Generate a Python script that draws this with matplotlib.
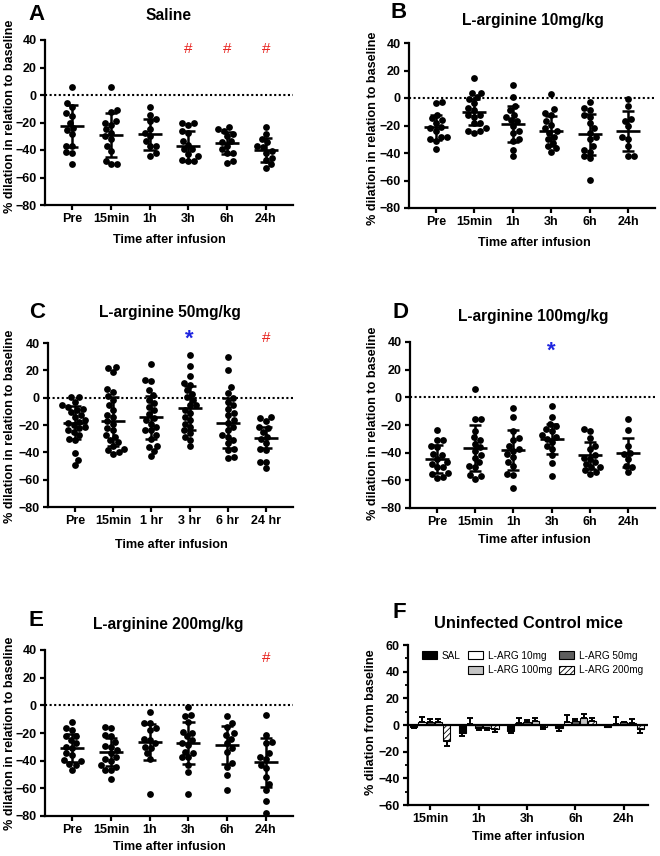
import numpy as np
import matplotlib
matplotlib.use("Agg")
import matplotlib.pyplot as plt
from matplotlib.patches import Patch

plt.rcParams["font.family"] = ["Liberation Sans", "DejaVu Sans"]
plt.rcParams["font.weight"] = "bold"
plt.rcParams["hatch.linewidth"] = 0.6

# ---------------- data ----------------
times = ["Pre", "15min", "1h", "3h", "6h", "24h"]
times_c = ["Pre", "15min", "1 hr", "3 hr", "6 hr", "24 hr"]

# A - Saline
a_pre = [6, -6, -8.5, -13, -15, -20, -24, -25.5, -28.5, -37, -37, -41.5, -42, -50.5]
a_15 = [6, -11, -12.5, -19, -20, -22, -25, -27.5, -30, -32, -37, -40.5, -48, -50.5, -50.5]
a_1h = [-9, -17.5, -14.5, -19, -25, -27.5, -30, -33.5, -37, -37, -42, -44]
a_3h = [-20.5, -20.5, -21.5, -26, -27.5, -33.5, -36, -39.5, -39.5, -43, -44.5, -47, -48, -48]
a_6h = [-23.5, -25, -26, -28.5, -30, -33.5, -34, -37, -39.5, -42, -42, -48, -49.5]
a_24h = [-23.5, -28.5, -32, -34.5, -37, -38, -40.5, -42, -45.5, -47, -50.5, -53]
a_mean = [-22.5, -29.3, -28.6, -37, -35, -40]
a_sd = [15, 16, 11.5, 11, 8, 9]

# B - L-arginine 10mg/kg
b_pre = [-3.5, -3, -12, -14.5, -16, -18, -22, -21, -24, -28, -28.5, -30, -31.5, -37]
b_15 = [14.5, 4, 3.5, 0.5, -1, -3.5, -7.5, -8.5, -12, -13.5, -12, -18, -18, -22, -24, -24, -25.5]
b_1h = [9.5, 1, -6, -8.5, -12, -13.5, -16, -17, -20.5, -24, -25.5, -30, -31.5, -37.5, -42]
b_3h = [3, -8, -11, -12, -17, -19.5, -22, -24, -25.5, -28, -30, -32.5, -35, -36.5, -39]
b_6h = [-3, -7.5, -8.5, -12, -13.5, -18, -22, -25.5, -28, -30, -37.5, -35, -39, -42, -43.5, -59.5]
b_24h = [-1, -5.5, -15, -16.5, -20.5, -28, -30, -35, -42, -42]
b_mean = [-21.3, -10.4, -18.7, -24.2, -26.4, -24.2]
b_sd = [9, 9.5, 13, 11, 15, 14.5]

# C - L-arginine 50mg/kg
c_pre = [0.5, 0.5, -3, -5.5, -6.5, -8, -9, -10.5, -12.5, -14, -16.5, -17.5, -18.5, -20,
         -21.5, -22.5, -24, -25, -27.5, -30, -31, -40.5, -45.5, -49.5]
c_15 = [21.5, 22.5, 18.5, 6, 4.5, 1, -1.5, -5.5, -9, -12.5, -14.5, -17, -19, -22.5, -24,
        -27.5, -28.5, -31, -32.5, -35, -37.5, -38.5, -40, -41.5]
c_1h = [24.5, 13, 12, 5.5, 2, -1.5, -4, -6.5, -9, -12, -15, -16.5, -19, -21.5, -24, -24,
        -27.5, -30, -35, -36, -39, -43]
c_3h = [31.5, 23, 16, 10.5, 9.5, 5.5, 3, 0.5, -1.5, -5.5, -5.5, -9, -11.5, -14, -16.5,
        -19, -21.5, -24, -26, -28.5, -31, -35.5]
c_6h = [30, 20, 7.5, 3.5, -0.5, -3, -5.5, -8, -11.5, -12.5, -16.5, -18.5, -21.5, -24,
        -27.5, -28.5, -31, -33.5, -37.5, -38.5, -43.5, -44.5]
c_24h = [-15, -14.5, -17, -21.5, -22.5, -25, -28.5, -30, -33, -37.5, -38.5, -47, -47, -51.5]
c_mean = [-18.2, -17.2, -14.5, -7.8, -18.5, -29.3]
c_sd = [12, 18, 16, 16, 18.5, 7.8]

# D - L-arginine 100mg/kg
d_pre = [-23.5, -31, -31, -35, -36, -41, -42, -44.5, -47, -48, -50.5, -50.5, -55, -55.5, -57.5, -58]
d_15 = [6, -15.5, -15.5, -24, -31, -29, -33.5, -36, -38.5, -42, -43.5, -47, -49.5, -50.5, -56, -57, -59]
d_1h = [-7.5, -14, -24, -29.5, -31, -35, -37.5, -38.5, -41, -43, -47, -49.5, -55.5, -56.5, -65.5]
d_3h = [-6.5, -14, -19, -20.5, -23, -24, -27.5, -29, -30, -32.5, -35, -37.5, -42, -47.5, -57]
d_6h = [-24, -23, -29.5, -35, -37.5, -41.5, -43.5, -44.5, -47, -48, -50.5, -50.5, -52.5, -54, -55.5]
d_24h = [-15.5, -23.5, -35, -40, -41, -44.5, -49.5, -50.5, -54]
d_mean = [-44.5, -36.5, -38, -30, -42, -40]
d_sd = [10, 16.6, 14.2, 11, 10, 10.6]

# E - L-arginine 200mg/kg
e_pre = [-12, -16.5, -17.5, -22.5, -22.5, -25, -27.5, -30, -31, -34.5, -36, -39.5, -40.5, -42.5, -43, -46.5]
e_15 = [-15.5, -16.5, -21.5, -22.5, -26.5, -29.5, -30, -32.5, -34.5, -37.5, -38.5, -40.5,
        -43, -44.5, -46.5, -47, -53]
e_1h = [-4.5, -13, -13, -16.5, -18, -24, -25, -27.5, -30, -31, -34.5, -38.5, -64]
e_3h = [-1, -7, -8, -12, -19, -20, -22.5, -25, -27.5, -28.5, -33.5, -34.5, -37.5, -37.5, -43, -48, -64]
e_6h = [-7.5, -12.5, -15.5, -20, -21.5, -24, -27.5, -31, -33.5, -41.5, -44.5, -50.5, -61]
e_24h = [-7, -21.5, -26.5, -27.5, -34.5, -37, -38.5, -43, -45.5, -51.5, -57, -61, -69.5, -78]
e_mean = [-31, -33.5, -26.5, -27, -28.7, -41.2]
e_sd = [10, 10, 13, 15.3, 13.5, 17.5]

# F - uninfected control mice (mean, one-sided error)
f_times = ["15min", "1h", "3h", "6h", "24h"]
f_names = ["SAL", "L-ARG 10mg", "L-ARG 50mg", "L-ARG 100mg", "L-ARG 200mg"]
f_sal = [-1.75, -6.25, -4.5, -2.5, -1.25]
f_sal_err = [0.5, 2, 1.25, 1.75, 0.5]
f_10 = [2.5, 0.5, 1.25, 2.5, 0.75]
f_10_err = [3.75, 4.5, 4.25, 5, 5]
f_50 = [2.5, -2.5, 2, 3.25, 2]
f_50_err = [1.75, 1.25, 1.75, 1, 0.5]
f_100 = [2, -2.5, 3, 5.5, 1.25]
f_100_err = [2.25, 1.25, 2.5, 2.75, 3.25]
f_200 = [-12, -3.25, -1.25, 3.25, -3.25]
f_200_err = [3.75, 2.25, 2, 2.25, 2.5]

# ---------------- figure helpers ----------------
W, H = 660, 856
fig = plt.figure(figsize=(W / 100, H / 100), dpi=100)

TICK_FS = 9
TITLE_FS = 11.2
LAB_FS = 9.1
LETTER_FS = 16


def rect(l, t, r, b):
    return [l / W, 1 - b / H, (r - l) / W, (b - t) / H]


def ftext(x, y, s, **kw):
    fig.text(x / W, 1 - y / H, s, **kw)


def swarm(vals, xpx, ypx, d=6.0, maxw=15):
    # simple beeswarm: place points from low to high, nearest free spot to the centre
    vals = np.asarray(vals, dtype=float)
    offs = np.zeros(len(vals))
    placed = []
    cand = np.arange(0, maxw + 0.1, 1.0)
    for k, i in enumerate(np.argsort(vals)):
        y = vals[i] * ypx
        sgn = 1 if k % 2 else -1
        best, best_d = 0.0, -1
        for c in cand:
            for cc in ([c] if c == 0 else [sgn * c, -sgn * c]):
                dm = min([np.hypot(cc - px, y - py) for px, py in placed] or [99])
                if dm >= d:
                    best, best_d = cc, 99
                    break
                if dm > best_d:
                    best, best_d = cc, dm
            if best_d == 99:
                break
        offs[i] = best / xpx
        placed.append((best, y))
    return offs


def style_axes(ax):
    for s in ["top", "right"]:
        ax.spines[s].set_visible(False)
    for s in ["left", "bottom"]:
        ax.spines[s].set_linewidth(1.6)
    ax.tick_params(width=1.6, length=3.5, labelsize=TICK_FS, pad=2.5)
    for lab in ax.get_xticklabels() + ax.get_yticklabels():
        lab.set_fontweight("bold")


def scatter_panel(r, groups, means, sds, labels):
    ax = fig.add_axes(rect(*r))
    l, t, rr, b = r
    xpx = (rr - l) / 6.4
    ypx = (b - t) / 120
    for i, g in enumerate(groups):
        offs = swarm(g, xpx, ypx)
        ax.scatter(i + offs, g, s=24, color="black", linewidths=0, zorder=3)
        m, sd = means[i], sds[i]
        ax.hlines(m, i - 0.31, i + 0.31, color="black", lw=1.9, zorder=4)
        ax.vlines(i, m - sd, m + sd, color="black", lw=1.8, zorder=4)
        ax.hlines([m - sd, m + sd], i - 0.16, i + 0.16, color="black", lw=1.8, zorder=4)
    ax.axhline(0, color="black", lw=1.5, ls=(0, (1, 1.2)), zorder=2)
    ax.set_xlim(-0.7, 5.7)
    ax.set_ylim(-80, 40)
    ax.set_yticks(np.arange(-80, 41, 20))
    ax.set_xticks(range(6))
    ax.set_xticklabels(labels)
    style_axes(ax)
    return ax


def mark(ax, i, y, kind):
    if kind == "#":
        ax.text(i, y, "#", color="#e8231f", fontsize=11, fontweight="normal",
                ha="center", va="center")
    else:
        ax.text(i, y - 3, "*", color="#1f25e0", fontsize=16, fontweight="bold",
                ha="center", va="center")


def panel_text(letter, lxy, title, txy, ylab, yxy, xxy):
    ftext(lxy[0], lxy[1], letter, fontsize=LETTER_FS, fontweight="bold", va="center")
    ftext(txy[0], txy[1], title, fontsize=TITLE_FS, ha="center", va="center")
    ftext(yxy[0], yxy[1], ylab, fontsize=LAB_FS, rotation=90, ha="center", va="center")
    ftext(xxy[0], xxy[1], "Time after infusion", fontsize=LAB_FS, ha="center", va="center")


ylab = "% dilation in relation to baseline"

# A
ax = scatter_panel((45, 40, 293, 205), [a_pre, a_15, a_1h, a_3h, a_6h, a_24h], a_mean, a_sd, times)
for i in [3, 4, 5]:
    mark(ax, i, 33.5, "#")
panel_text("A", (28, 15), "Saline", (169, 16), ylab, (10, 116), (169, 240))

# B
ax = scatter_panel((409, 43, 655, 208), [b_pre, b_15, b_1h, b_3h, b_6h, b_24h], b_mean, b_sd, times)
panel_text("B", (391, 13), "L-arginine 10mg/kg", (533, 21), ylab, (373, 128), (534, 243))

# C
ax = scatter_panel((48, 343, 293, 507), [c_pre, c_15, c_1h, c_3h, c_6h, c_24h], c_mean, c_sd, times_c)
mark(ax, 3, 46, "*")
mark(ax, 5, 44, "#")
panel_text("C", (29, 313), "L-arginine 50mg/kg", (170, 313), ylab, (10, 426), (171, 545))

# D
ax = scatter_panel((410, 342, 655, 508), [d_pre, d_15, d_1h, d_3h, d_6h, d_24h], d_mean, d_sd, times)
mark(ax, 3, 36, "*")
panel_text("D", (392, 313), "L-arginine 100mg/kg", (533, 317), ylab, (373, 423), (534, 540))

# E
ax = scatter_panel((45, 650, 293, 816), [e_pre, e_15, e_1h, e_3h, e_6h, e_24h], e_mean, e_sd, times)
mark(ax, 5, 34, "#")
panel_text("E", (29, 620), "L-arginine 200mg/kg", (168, 625), ylab, (10, 733), (169, 847))

# F
ax = fig.add_axes(rect(408, 645, 648, 805))
series = [(f_sal, f_sal_err, "black", None),
          (f_10, f_10_err, "white", None),
          (f_50, f_50_err, "#5e5e5e", None),
          (f_100, f_100_err, "#c4c4c4", None),
          (f_200, f_200_err, "white", "//////")]
x = np.arange(len(f_times))
handles = []
for k, (vals, err, col, hatch) in enumerate(series):
    xs = x + (k - 2) * 0.17
    vals = np.array(vals)
    err = np.array(err)
    ax.bar(xs, vals, width=0.15, color=col, edgecolor="black", linewidth=0.8,
           hatch=hatch, zorder=2)
    lower = np.where(vals < 0, err, 0)
    upper = np.where(vals >= 0, err, 0)
    ax.errorbar(xs, vals, yerr=[lower, upper], fmt="none", ecolor="black",
                elinewidth=1.4, capsize=2.5, capthick=1.4, zorder=3)
    handles.append(Patch(facecolor=col, edgecolor="black", hatch=hatch, linewidth=0.8))
ax.axhline(0, color="black", lw=1.6, zorder=4)
ax.set_xlim(-0.46, 4.5)
ax.set_ylim(-60, 60)
ax.set_yticks(np.arange(-60, 61, 20))
ax.set_yticks(np.arange(-60, 61, 10), minor=True)
ax.tick_params(which="minor", length=2.5, width=1.3)
ax.set_xticks(x)
ax.set_xticklabels(f_times)
style_axes(ax)
blank = Patch(facecolor="none", edgecolor="none")
leg_h = [handles[0], blank, handles[1], handles[3], handles[2], handles[4]]
leg_l = [f_names[0], "", f_names[1], f_names[3], f_names[2], f_names[4]]
leg = ax.legend(leg_h, leg_l, ncol=3, loc="upper left", bbox_to_anchor=(0.02, 1.02),
                frameon=False, fontsize=7.2, handlelength=1.5, handleheight=0.85,
                handletextpad=0.5, columnspacing=0.7, labelspacing=0.45)
for txt in leg.get_texts():
    txt.set_fontweight("normal")
ftext(392, 612, "F", fontsize=LETTER_FS, fontweight="bold", va="center")
ftext(528, 623, "Uninfected Control mice", fontsize=11.8, ha="center", va="center")
ftext(371, 722, "% dilation from baseline", fontsize=LAB_FS, rotation=90, ha="center", va="center")
ftext(528, 837, "Time after infusion", fontsize=LAB_FS, ha="center", va="center")

fig.savefig("out.png", dpi=100)
